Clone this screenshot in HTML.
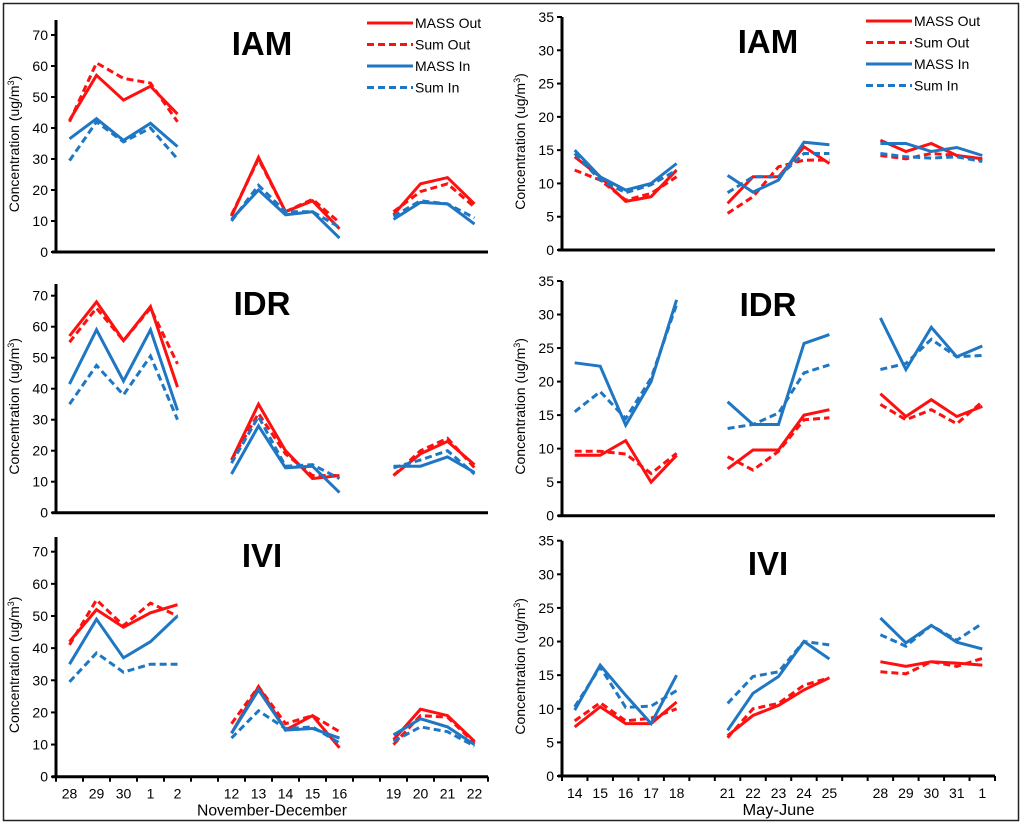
<!DOCTYPE html>
<html><head><meta charset="utf-8"><style>
html,body{margin:0;padding:0;background:#fff;}
#wrap{position:relative;width:1024px;height:824px;overflow:hidden;background:#fff;}
svg text{font-family:"Liberation Sans",Arial,sans-serif;fill:#000;}
</style></head><body>
<div id="wrap">
<svg id="fig" width="1024" height="824" viewBox="0 0 1024 824">
<rect x="3.5" y="3.5" width="1015" height="817" fill="#fff" stroke="#222" stroke-width="1.5"/>
</svg>
</div>
<script>
// ---- Categories ----
const winterDays = ["28","29","30","1","2","","12","13","14","15","16","","19","20","21","22"];
const summerDays = ["14","15","16","17","18","","21","22","23","24","25","","28","29","30","31","1"];
const seriesNames = ["MASS Out","Sum Out","MASS In","Sum In"];
const N = null;
// ---- Winter (November-December) ----
const iamWMassOut = [42.5,57,49,53.5,44.5,N,11.5,30.5,13,16.5,7.5,N,12,22,24,15.5];
const iamWSumOut  = [42,61,56,54.5,42,N,12,30,13,17,9.5,N,13,19.5,22,14.5];
const iamWMassIn  = [36.5,43,36,41.5,34,N,10.5,20,12,13,4.5,N,10.5,16,15.5,9];
const iamWSumIn   = [29.5,42,35.5,40,30,N,10,21.5,13,13,8,N,11.5,16.5,15.5,11];
const idrWMassOut = [57,68,55.5,66.5,40.5,N,17,35,20,11,12,N,12,19,23,15.5];
const idrWSumOut  = [55,66,55.5,66,48,N,17,32,19,12,12,N,12,20,24,14.5];
const idrWMassIn  = [41.5,59,42.5,59,33,N,12.5,28,14.5,15,6.5,N,15,15,18,13];
const idrWSumIn   = [35,47.5,38,50.5,30,N,16,31,15,15.5,11,N,14.5,17,20,12.5];
const iviWMassOut = [42,52,46.5,51,53.5,N,13.5,28,14.5,19,9,N,11.5,21,19,11];
const iviWSumOut  = [41,55,47,54,50,N,16.5,28,16.5,19,14,N,10,19,18.5,10.5];
const iviWMassIn  = [35,49,37,42,50,N,13.5,27,14.5,15,12,N,13,18,15.5,10];
const iviWSumIn   = [29.5,38.5,32.5,35,35,N,12,20.5,15,15.5,10.5,N,11,15.5,14,9.5];
// ---- Summer (May-June) ----
const iamSMassOut = [14,11,7.3,8,12,N,7,11,11,15.5,13,N,16.5,14.8,16,14.2,13.7];
const iamSSumOut  = [12,10.5,7.5,8.5,11,N,5.5,8,12.5,13.5,13.5,N,14.2,13.7,14.5,14.2,13.5];
const iamSMassIn  = [15,11,9,10,13,N,11.2,8.7,10.5,16.2,15.8,N,16,16,14.8,15.4,14.2];
const iamSSumIn   = [14.5,10.5,8.6,9.8,12,N,8.6,11,11,14.5,14.5,N,14.5,14,13.8,14,13.3];
const idrSMassOut = [9,9,11.2,5,9,N,7,9.8,9.8,15,15.8,N,18.2,14.8,17.3,14.8,16.3];
const idrSSumOut  = [9.6,9.6,9.2,6.3,9.3,N,8.8,6.8,9.6,14.3,14.6,N,16.6,14.3,15.8,13.7,17];
const idrSMassIn  = [22.8,22.3,13.5,20,32.2,N,17,13.6,13.6,25.7,27,N,29.5,21.8,28.1,23.7,25.3];
const idrSSumIn   = [15.5,18.5,14.5,20.5,31.5,N,13,13.6,15.3,21.3,22.5,N,21.8,22.7,26.3,23.7,23.9];
const iviSMassOut = [7.3,10.3,7.8,7.8,11,N,6,9,10.5,12.8,14.6,N,17,16.3,17,16.8,16.5];
const iviSSumOut  = [8.2,10.9,8.2,8.6,10,N,5.7,10,10.8,13.5,14.6,N,15.5,15.2,17,16.3,17.5];
const iviSMassIn  = [9.8,16.5,12,7.8,15,N,6.8,12.3,14.8,20,17.4,N,23.5,19.8,22.4,19.9,18.9];
const iviSSumIn   = [10.3,16.2,10.2,10.4,12.7,N,10.8,14.8,15.5,20,19.5,N,21,19.3,22.4,20.2,22.7];
// ---- Tick labels ----
const winterTicks = [0,10,20,30,40,50,60,70];
const summerTicks = [0,5,10,15,20,25,30,35];

const NS = "http://www.w3.org/2000/svg";
const svg = document.getElementById("fig");
function mk(tag, attrs, parent){
  const e = document.createElementNS(NS, tag);
  for (const k in attrs) e.setAttribute(k, attrs[k]);
  (parent||svg).appendChild(e);
  return e;
}
const RED = "#ff1010", BLUE = "#1f77c4";
const styles = [{c:RED,d:""},{c:RED,d:"7,4"},{c:BLUE,d:""},{c:BLUE,d:"7,4"}];

function panel(cfg){
  const g = mk("g", {});
  
  
  const n = cfg.cats.length;
  const slot = (cfg.x1 - cfg.x0) / n;
  const xs = i => cfg.x0 + slot * (i + 0.5);
  const ys = v => cfg.y0 - (v / cfg.max) * (cfg.y0 - cfg.yTop);
  const ya = mk("line", {x1:cfg.x0, y1:cfg.axTop, x2:cfg.x0, y2:cfg.y0, stroke:"#000","stroke-width":3}, g);
  
  
  const xa = mk("line", {x1:cfg.x0-4, y1:cfg.y0, x2:cfg.x1, y2:cfg.y0, stroke:"#000","stroke-width":3}, g);
  
  
  cfg.ticks.forEach(t => {
    const y = ys(t);
    mk("line", {x1:cfg.x0-5, y1:y, x2:cfg.x0, y2:y, stroke:"#000","stroke-width":2}, g);
    const tx = mk("text", {x:cfg.x0-8, y:y+5, "text-anchor":"end","font-size":14}, g);
    tx.textContent = t;
    
    
  });
  const yt = mk("text", {x:0, y:0, "text-anchor":"middle","font-size":14,
    transform:`translate(${cfg.x0-37},${(cfg.y0+cfg.axTop)/2+8}) rotate(-90)`}, g);
  yt.innerHTML = 'Concentration (ug/m<tspan dy="-5" font-size="9">3</tspan><tspan dy="5">)</tspan>';
  
  
  const pt = mk("text", {x:cfg.titleX, y:cfg.titleY, "text-anchor":"middle","font-size":33,"font-weight":"bold"}, g);
  pt.textContent = cfg.title;
  
  
  if (cfg.bottom) {
    for (let i = 0; i <= n; i++) {
      const x = cfg.x0 + slot * i;
      mk("line", {x1:x, y1:cfg.y0, x2:x, y2:cfg.y0+5, stroke:"#000","stroke-width":2}, g);
    }
    cfg.cats.forEach((c, i) => {
      if (!c) return;
      const t = mk("text", {x:xs(i), y:cfg.y0+22, "text-anchor":"middle","font-size":14}, g);
      t.textContent = c;
      
      
    });
    const xt = mk("text", {x:(cfg.x0+cfg.x1)/2, y:cfg.y0+39, "text-anchor":"middle","font-size":16,"textLength":cfg.xTitleLen,"lengthAdjust":"spacingAndGlyphs"}, g);
    xt.textContent = cfg.xTitle;
    
    
  }
  cfg.series.forEach((arr, si) => {
    let segs = [], cur = [];
    arr.forEach((v, i) => {
      if (v === null) { if (cur.length) segs.push(cur); cur = []; }
      else cur.push(xs(i).toFixed(1) + "," + ys(v).toFixed(1));
    });
    if (cur.length) segs.push(cur);
    segs.forEach(s => {
      const p = mk("polyline", {points:s.join(" "), fill:"none", stroke:styles[si].c, "stroke-width":3,
        "stroke-dasharray":styles[si].d, "stroke-linejoin":"miter"}, g);
      
      
    });
  });
  if (cfg.legend) {
    seriesNames.forEach((nm, si) => {
      const y = cfg.legend.y + si * 21.5;
      const lg = mk("g", {}, g);
      
      
      mk("line", {x1:cfg.legend.x, y1:y, x2:cfg.legend.x+46, y2:y, stroke:styles[si].c, "stroke-width":3, "stroke-dasharray":styles[si].d}, lg);
      const t = mk("text", {x:cfg.legend.x+48, y:y+5, "font-size":14}, lg);
      t.textContent = nm;
    });
  }
}

const L = {x0:56, x1:488, cats:winterDays, max:70, ticks:winterTicks, titleX:262, xTitle:"November-December", xTitleLen:150};
const R = {x0:562, x1:995, cats:summerDays, max:35, ticks:summerTicks, titleX:768, xTitle:"May-June", xTitleLen:72};

panel(Object.assign({}, L, {name:"panel-iam-winter", title:"IAM", y0:252, yTop:35, axTop:20, titleY:55,
  series:[iamWMassOut,iamWSumOut,iamWMassIn,iamWSumIn], legend:{x:367,y:23}}));
panel(Object.assign({}, L, {name:"panel-idr-winter", title:"IDR", y0:512.7, yTop:295.7, axTop:284, titleY:315,
  series:[idrWMassOut,idrWSumOut,idrWMassIn,idrWSumIn]}));
panel(Object.assign({}, L, {name:"panel-ivi-winter", title:"IVI", y0:776.7, yTop:551.7, axTop:537, titleY:567, bottom:true,
  series:[iviWMassOut,iviWSumOut,iviWMassIn,iviWSumIn]}));
panel(Object.assign({}, R, {name:"panel-iam-summer", title:"IAM", y0:250, yTop:17, axTop:17, titleY:53,
  series:[iamSMassOut,iamSSumOut,iamSMassIn,iamSSumIn], legend:{x:866,y:21}}));
panel(Object.assign({}, R, {name:"panel-idr-summer", title:"IDR", y0:515.7, yTop:281, axTop:281, titleY:316,
  series:[idrSMassOut,idrSSumOut,idrSMassIn,idrSSumIn]}));
panel(Object.assign({}, R, {name:"panel-ivi-summer", title:"IVI", y0:776, yTop:540.7, axTop:540.7, titleY:575, bottom:true,
  series:[iviSMassOut,iviSSumOut,iviSMassIn,iviSSumIn]}));
</script>
</body></html>
